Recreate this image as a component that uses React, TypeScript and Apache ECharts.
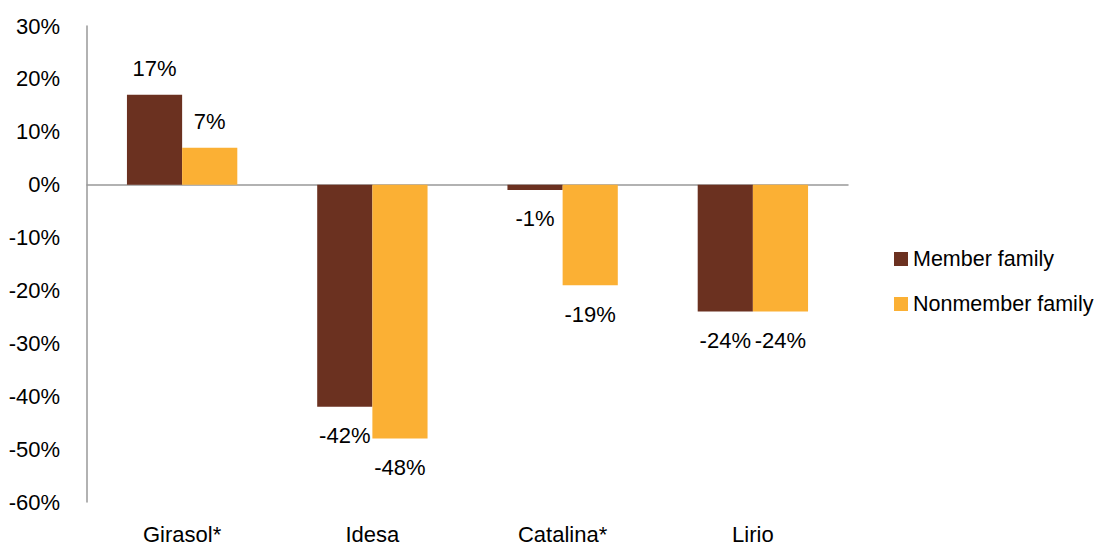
import React, { useEffect, useRef } from "react";
import * as echarts from "echarts";

const categories = ["Girasol*", "Idesa", "Catalina*", "Lirio"];
const memberFamily = [17, -42, -1, -24];
const nonmemberFamily = [7, -48, -19, -24];
const seriesNames = ["Member family", "Nonmember family"];
const FONT = "'Liberation Sans Narrow', 'Arial Narrow', 'Liberation Sans', Arial, sans-serif";

export default function App() {
  const ref = useRef<HTMLDivElement>(null);
  useEffect(() => {
    const chart = echarts.init(ref.current!, null, { renderer: "svg" });
    const label = {
      show: true,
      distance: 15,
      fontSize: 22,
      fontFamily: FONT,
      color: "#000",
      formatter: (p: any) => `${p.value}%`,
    };
    const toData = (arr: number[]) =>
      arr.map((v) => ({
        value: v,
        label: { position: v >= 0 ? "top" : "bottom", distance: v >= 0 ? 15 : 18 },
      }));
    chart.setOption({
      animation: false,
      textStyle: { fontFamily: FONT },
      grid: { left: 87, right: 248, top: 26, bottom: 42, containLabel: false },
      legend: {
        orient: "vertical",
        left: 889,
        top: 243,
        itemWidth: 14,
        itemHeight: 14,
        itemGap: 23,
        icon: "rect",
        textStyle: { fontSize: 21.5, fontFamily: FONT, color: "#000" },
        data: seriesNames,
      },
      xAxis: {
        type: "category",
        data: categories,
        axisLine: { onZero: true, lineStyle: { color: "#999", width: 1.5 } },
        axisTick: { show: false },
        axisLabel: {
          interval: 0,
          fontSize: 22,
          fontFamily: FONT,
          color: "#000",
          margin: 21,
        },
      },
      yAxis: {
        type: "value",
        min: -60,
        max: 30,
        interval: 10,
        axisLine: { show: true, lineStyle: { color: "#999", width: 1.5 } },
        axisTick: { show: false },
        splitLine: { show: false },
        axisLabel: {
          fontSize: 22,
          fontFamily: FONT,
          color: "#000",
          margin: 27,
          formatter: (v: number) => `${v}%`,
        },
      },
      series: [
        {
          name: seriesNames[0],
          type: "bar",
          data: toData(memberFamily),
          itemStyle: { color: "#6B3120" },
          barGap: "0%",
          barCategoryGap: "42%",
          label,
        },
        {
          name: seriesNames[1],
          type: "bar",
          data: toData(nonmemberFamily),
          itemStyle: { color: "#FBB034" },
          barGap: "0%",
          barCategoryGap: "42%",
          label,
        },
      ],
    });
    return () => chart.dispose();
  }, []);
  return <div ref={ref} style={{ width: 1096, height: 545, position: "absolute", left: 0, top: 0 }} />;
}
